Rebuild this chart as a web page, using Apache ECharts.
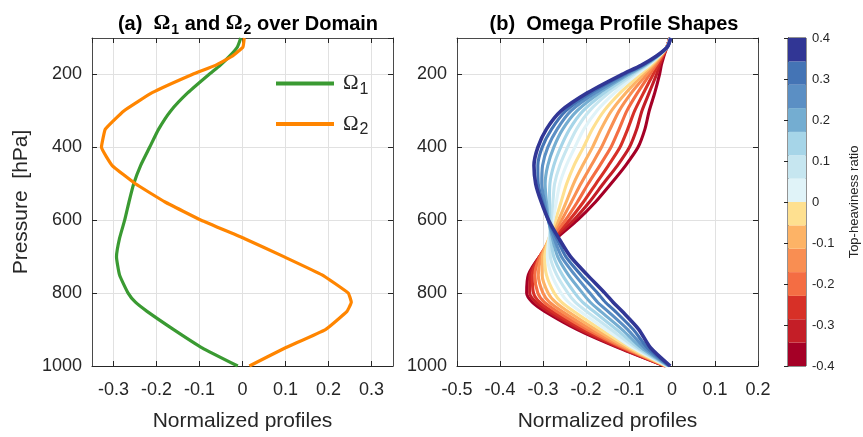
<!DOCTYPE html>
<html>
<head>
<meta charset="utf-8">
<script src="https://cdn.jsdelivr.net/npm/echarts@6/dist/echarts.min.js"></script>
<style>
  html, body { margin: 0; padding: 0; background: #ffffff; }
  #chart { width: 863px; height: 437px; }
</style>
</head>
<body>
<div id="chart"></div>
<script>
// Pressure levels (hPa) shared by every profile
const pressure = [100, 125, 150, 175, 200, 250, 300, 350, 400, 450, 500, 550, 600, 650, 700, 750, 800, 825, 850, 900, 950, 1000];

// Panel (a): the two basis profiles over the domain
const omega1 = [-0.004, -0.012, -0.030, -0.052, -0.078, -0.127, -0.167, -0.195, -0.216, -0.237, -0.253, -0.264, -0.274, -0.286, -0.293, -0.286, -0.266, -0.249, -0.222, -0.160, -0.094, -0.011];
const omega2 = [0.004, 0.001, -0.024, -0.063, -0.117, -0.210, -0.276, -0.319, -0.328, -0.303, -0.249, -0.180, -0.096, 0.004, 0.096, 0.185, 0.246, 0.253, 0.243, 0.193, 0.100, 0.016];

// Panel (b): omega profile shapes, one per top-heaviness ratio
const ratios = [-0.4, -0.338, -0.277, -0.215, -0.154, -0.092, -0.031, 0.031, 0.092, 0.154, 0.215, 0.277, 0.338, 0.4];
const shape00 = [-0.005, -0.012, -0.019, -0.025, -0.029, -0.040, -0.053, -0.063, -0.079, -0.108, -0.142, -0.178, -0.220, -0.269, -0.308, -0.334, -0.338, -0.325, -0.296, -0.220, -0.124, -0.016];
const shape01 = [-0.005, -0.012, -0.021, -0.029, -0.036, -0.053, -0.070, -0.082, -0.099, -0.127, -0.160, -0.192, -0.229, -0.274, -0.308, -0.330, -0.331, -0.317, -0.288, -0.214, -0.121, -0.016];
const shape02 = [-0.005, -0.012, -0.022, -0.033, -0.044, -0.066, -0.087, -0.103, -0.121, -0.148, -0.177, -0.206, -0.239, -0.278, -0.308, -0.325, -0.322, -0.308, -0.279, -0.206, -0.117, -0.015];
const shape03 = [-0.005, -0.012, -0.024, -0.038, -0.052, -0.080, -0.105, -0.123, -0.142, -0.168, -0.195, -0.220, -0.248, -0.281, -0.307, -0.319, -0.312, -0.297, -0.268, -0.197, -0.113, -0.014];
const shape04 = [-0.005, -0.012, -0.026, -0.042, -0.059, -0.094, -0.123, -0.144, -0.164, -0.188, -0.212, -0.234, -0.257, -0.284, -0.304, -0.311, -0.300, -0.285, -0.256, -0.188, -0.108, -0.013];
const shape05 = [-0.004, -0.012, -0.028, -0.046, -0.067, -0.107, -0.141, -0.165, -0.185, -0.208, -0.229, -0.246, -0.264, -0.286, -0.301, -0.302, -0.288, -0.271, -0.243, -0.177, -0.103, -0.013];
const shape06 = [-0.004, -0.012, -0.029, -0.050, -0.074, -0.120, -0.158, -0.185, -0.206, -0.228, -0.245, -0.258, -0.271, -0.286, -0.296, -0.292, -0.274, -0.257, -0.229, -0.166, -0.097, -0.012];
const shape07 = [-0.004, -0.012, -0.031, -0.054, -0.082, -0.133, -0.175, -0.205, -0.226, -0.246, -0.261, -0.269, -0.277, -0.286, -0.290, -0.280, -0.258, -0.241, -0.214, -0.154, -0.091, -0.011];
const shape08 = [-0.004, -0.012, -0.032, -0.058, -0.089, -0.146, -0.192, -0.222, -0.243, -0.261, -0.273, -0.277, -0.281, -0.284, -0.283, -0.268, -0.242, -0.225, -0.199, -0.142, -0.084, -0.010];
const shape09 = [-0.003, -0.012, -0.033, -0.061, -0.095, -0.157, -0.207, -0.238, -0.259, -0.275, -0.284, -0.285, -0.284, -0.282, -0.275, -0.255, -0.226, -0.208, -0.182, -0.129, -0.078, -0.009];
const shape10 = [-0.003, -0.011, -0.034, -0.064, -0.101, -0.168, -0.221, -0.254, -0.275, -0.289, -0.295, -0.292, -0.287, -0.278, -0.266, -0.241, -0.208, -0.190, -0.166, -0.116, -0.071, -0.007];
const shape11 = [-0.003, -0.011, -0.035, -0.067, -0.106, -0.178, -0.235, -0.267, -0.289, -0.301, -0.303, -0.296, -0.288, -0.274, -0.257, -0.226, -0.191, -0.173, -0.149, -0.103, -0.064, -0.006];
const shape12 = [-0.003, -0.011, -0.036, -0.070, -0.111, -0.188, -0.247, -0.280, -0.302, -0.312, -0.311, -0.301, -0.288, -0.268, -0.247, -0.212, -0.173, -0.155, -0.132, -0.090, -0.057, -0.005];
const shape13 = [-0.003, -0.011, -0.037, -0.072, -0.116, -0.196, -0.258, -0.292, -0.312, -0.321, -0.317, -0.304, -0.287, -0.263, -0.236, -0.197, -0.156, -0.137, -0.116, -0.077, -0.050, -0.004];
const shapes = [shape00, shape01, shape02, shape03, shape04, shape05, shape06, shape07, shape08, shape09, shape10, shape11, shape12, shape13];

// Colour bar bands (edges of the 14 ratio classes)
const barEdges = [-0.4, -0.343, -0.286, -0.229, -0.171, -0.114, -0.057, 0, 0.057, 0.114, 0.171, 0.229, 0.286, 0.343, 0.4];

// Styling
const palette = ['#a50026', '#c41e27', '#d73027', '#f46d43', '#f98e52', '#fdb366', '#fee090',
                 '#e0f3f8', '#c6e6f0', '#a6d5e8', '#74add1', '#5b8fc4', '#4474b5', '#313695'];
const FONT = '"Liberation Sans", Arial, Helvetica, sans-serif';
const SERIF = '"Liberation Serif", "Times New Roman", serif';
const INK = '#262626';
const GRID_LINE = '#e1e1e1';
const FRAME = '#4a4a4a';

const chart = echarts.init(document.getElementById('chart'), null, { renderer: 'canvas' });

const plainNumber = function (v) { return String(Math.round(v * 1000) / 1000); };

function bottomAxis(gridIndex, extra) {
  return Object.assign({
    type: 'value', gridIndex: gridIndex, position: 'bottom',
    axisLine: { show: true, onZero: false, lineStyle: { color: INK, width: 1 } },
    axisTick: { show: true, inside: true, length: 5, lineStyle: { color: INK } },
    axisLabel: { show: true, color: INK, fontSize: 18, fontFamily: FONT, margin: 15, formatter: plainNumber },
    splitLine: { show: true, lineStyle: { color: GRID_LINE, width: 1 } },
    name: 'Normalized profiles', nameLocation: 'middle', nameGap: 45,
    nameTextStyle: { color: INK, fontSize: 21, fontFamily: FONT }
  }, extra);
}
function topAxis(gridIndex, extra) {
  return Object.assign({
    type: 'value', gridIndex: gridIndex, position: 'top',
    axisLine: { show: true, onZero: false, lineStyle: { color: FRAME, width: 1 } },
    axisTick: { show: true, inside: true, length: 5, lineStyle: { color: INK } },
    axisLabel: { show: false }, splitLine: { show: false }
  }, extra);
}
function leftAxis(gridIndex, extra) {
  return Object.assign({
    type: 'value', gridIndex: gridIndex, position: 'left', inverse: true,
    min: 100, max: 1000, splitNumber: 5,
    axisLine: { show: true, onZero: false, lineStyle: { color: FRAME, width: 1 } },
    axisTick: { show: true, inside: true, length: 5, lineStyle: { color: INK } },
    axisLabel: { show: true, color: INK, fontSize: 18, fontFamily: FONT, margin: 10, showMinLabel: false, formatter: plainNumber },
    splitLine: { show: true, lineStyle: { color: GRID_LINE, width: 1 } }
  }, extra);
}
function rightAxis(gridIndex) {
  return {
    type: 'value', gridIndex: gridIndex, position: 'right', inverse: true,
    min: 100, max: 1000, splitNumber: 5,
    axisLine: { show: true, onZero: false, lineStyle: { color: FRAME, width: 1 } },
    axisTick: { show: true, inside: true, length: 5, lineStyle: { color: INK } },
    axisLabel: { show: false }, splitLine: { show: false }
  };
}

const panelAX = { min: -0.35, max: 0.35, splitNumber: 7 };
const panelBX = { min: -0.5, max: 0.2, interval: 0.1 };

const series = [];
series.push({
  name: 'Ω1', type: 'line', xAxisIndex: 0, yAxisIndex: 0, showSymbol: false, symbol: 'none',
  smooth: 0.15,
  lineStyle: { color: '#3a9a32', width: 3.2 }, itemStyle: { color: '#3a9a32' },
  data: pressure.map((p, i) => [omega1[i], p]), z: 3
});
series.push({
  name: 'Ω2', type: 'line', xAxisIndex: 0, yAxisIndex: 0, showSymbol: false, symbol: 'none',
  smooth: 0.1,
  lineStyle: { color: '#ff8500', width: 3.2 }, itemStyle: { color: '#ff8500' },
  data: pressure.map((p, i) => [omega2[i], p]), z: 3
});
shapes.forEach((shape, k) => {
  series.push({
    name: 'ratio ' + ratios[k], type: 'line', xAxisIndex: 2, yAxisIndex: 2,
    showSymbol: false, symbol: 'none', smooth: 0.25,
    lineStyle: { color: palette[k], width: k === shapes.length - 1 ? 3.6 : 3.1 },
    data: pressure.map((p, i) => [shape[i], p]), z: 3
  });
});
series.push({
  type: 'custom', xAxisIndex: 4, yAxisIndex: 4, silent: true,
  data: palette.map((c, i) => [barEdges[i], barEdges[i + 1], i]),
  encode: { y: [0, 1] },
  renderItem: function (params, api) {
    const lo = api.value(0), hi = api.value(1);
    const a = api.coord([0, hi]);
    const b = api.coord([1, lo]);
    return {
      type: 'rect',
      shape: { x: a[0], y: a[1], width: b[0] - a[0], height: b[1] - a[1] },
      style: { fill: palette[api.value(2)] }
    };
  }
});

const titleRich = {
  o: { fontFamily: SERIF, fontWeight: 'bold', fontSize: 21, color: '#000' },
  s: { fontFamily: FONT, fontWeight: 'bold', fontSize: 14, color: '#000', padding: [12, 0, 0, 1] }
};

chart.setOption({
  animation: false,
  backgroundColor: '#ffffff',
  title: [
    {
      text: '(a)  {o|Ω}{s|1} and {o|Ω}{s|2} over Domain',
      left: 243, top: 6, textAlign: 'center',
      textStyle: { fontFamily: FONT, fontWeight: 'bold', fontSize: 20, color: '#000', rich: titleRich }
    },
    {
      text: '(b)  Omega Profile Shapes',
      left: 609, top: 9, textAlign: 'center',
      textStyle: { fontFamily: FONT, fontWeight: 'bold', fontSize: 20, color: '#000' }
    }
  ],
  legend: {
    data: ['Ω1', 'Ω2'],
    orient: 'vertical', left: 271, top: 68,
    icon: 'rect', itemWidth: 58, itemHeight: 4, itemGap: 16,
    formatter: function (name) { return '{o|Ω}{s|' + name.slice(1) + '}'; },
    textStyle: {
      color: INK, fontFamily: FONT, fontSize: 18, padding: [0, 0, 0, 4],
      rich: {
        o: { fontFamily: SERIF, fontSize: 21, color: INK },
        s: { fontFamily: FONT, fontSize: 16, color: INK, padding: [12, 0, 0, 1] }
      }
    }
  },
  grid: [
    { left: 92, top: 38, width: 301, height: 328, containLabel: false },
    { left: 457, top: 38, width: 301, height: 328, containLabel: false },
    { left: 788, top: 38, width: 18, height: 328, containLabel: false,
      show: true, borderColor: INK, borderWidth: 1, backgroundColor: 'transparent' }
  ],
  xAxis: [
    bottomAxis(0, Object.assign({ axisLabel: { show: true, color: INK, fontSize: 18, fontFamily: FONT, margin: 15, showMinLabel: false, showMaxLabel: false, formatter: plainNumber } }, panelAX)),
    topAxis(0, panelAX),
    bottomAxis(1, panelBX),
    topAxis(1, panelBX),
    { type: 'value', gridIndex: 2, min: 0, max: 1, show: false }
  ],
  yAxis: [
    leftAxis(0, {
      name: 'Pressure  [hPa]', nameLocation: 'middle', nameGap: 60, nameRotate: 90,
      nameTextStyle: { color: INK, fontSize: 21, fontFamily: FONT }
    }),
    rightAxis(0),
    leftAxis(1, {}),
    rightAxis(1),
    {
      type: 'value', gridIndex: 2, position: 'right', min: -0.4, max: 0.4, interval: 0.1,
      axisLine: { show: true, lineStyle: { color: INK, width: 1 } },
      axisTick: { show: true, inside: true, length: 4, lineStyle: { color: INK } },
      axisLabel: { show: true, color: INK, fontSize: 13, fontFamily: FONT, margin: 6, formatter: plainNumber },
      splitLine: { show: false },
      name: 'Top-heaviness ratio', nameLocation: 'middle', nameRotate: 90, nameGap: 42,
      nameTextStyle: { color: INK, fontSize: 13, fontFamily: FONT }
    }
  ],
  series: series
});
</script>
</body>
</html>
